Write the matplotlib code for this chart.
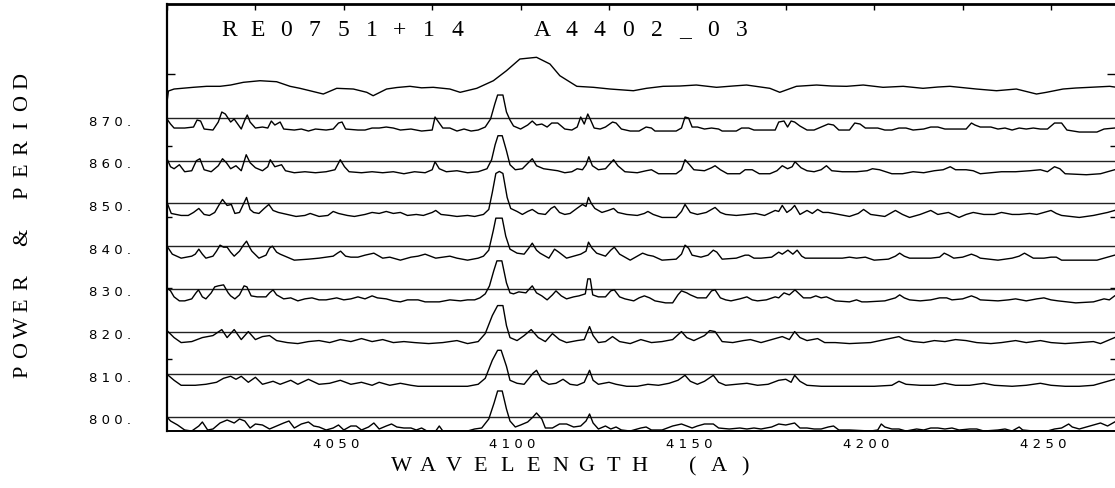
import matplotlib
matplotlib.use("Agg")
import matplotlib.pyplot as plt
import matplotlib.transforms as mtransforms
import numpy as np

# ---- data ---------------------------------------------------------------
PERIODS = [800, 810, 820, 830, 840, 850, 860, 870]
X_TICK_LABELS = [4050, 4100, 4150, 4200, 4250]
TITLE = "RE0751+14  A4402_03"
X_LABEL = "WAVELENGTH (A)"
Y_LABEL = "POWER & PERIOD"

# mean spectrum (relative flux) on top
MEAN_WL = [4000.0, 4000.4, 4002, 4007.4, 4011.2, 4015, 4018, 4021.6, 4026.3, 4031, 4034.8,
           4037.6, 4040.4, 4044.2, 4048, 4052.7, 4056.5, 4058.3, 4062.1, 4065, 4068.7, 4072,
           4075.3, 4080, 4082.9, 4087.6, 4092.3, 4096, 4099.8, 4104.5, 4108.3, 4111.1, 4115.9,
           4120.6, 4125.3, 4131.9, 4135.6, 4140.3, 4145, 4149.7, 4155.4, 4160, 4163.9, 4170.5,
           4173.3, 4178, 4183.7, 4188, 4192.2, 4196.9, 4202.5, 4208.2, 4213.8, 4218, 4221.4,
           4228.9, 4234.6, 4240.2, 4245.9, 4248.7, 4253.4, 4257, 4261, 4266.6, 4268]
MEAN_FLUX = [2, 13, 15, 16.7, 17.7, 17.7, 19, 21.7, 23.3, 22.3, 17.7,
             15.7, 13.3, 10, 15.7, 15, 11.7, 8.3, 15, 16.5, 17.7, 16.2,
             16.7, 15, 11.7, 15.7, 23.3, 33.3, 45, 46.7, 40, 28.3, 17.7,
             16.7, 15, 13.3, 15.7, 17.7, 18, 19, 16.7, 18, 19, 15.7,
             11.7, 17.7, 19, 18, 17.7, 19, 16.7, 17.7, 15.7, 17, 17.7,
             15, 13.3, 15, 10, 11.7, 15, 16, 16.7, 17.7, 17]

# power spectra, one per trial period
WL_870 = [4000, 4001, 4002, 4005, 4007.5, 4008.5, 4009.5, 4010.5, 4013, 4014.5, 4015.5, 4016.5, 4018,
          4019, 4020, 4021, 4022, 4022.7, 4023.5, 4025, 4027, 4028.5, 4029.5, 4030.5, 4032, 4033,
          4036, 4038, 4040, 4042, 4045, 4047, 4048.5, 4049.5, 4050.5, 4054, 4056, 4058, 4060, 4062,
          4064, 4066, 4069, 4072, 4075, 4075.8, 4076.8, 4078, 4080, 4082, 4084, 4086, 4088, 4090,
          4091.5, 4092.7, 4093.5, 4095, 4096, 4097, 4098, 4100, 4102, 4103.3, 4104.5, 4106, 4107.5,
          4108.8, 4110.5, 4112.5, 4114.5, 4116, 4117, 4118, 4119, 4119.8, 4120.8, 4122.5, 4124,
          4126, 4127, 4128.5, 4131, 4133.5, 4135.5, 4137, 4138, 4144, 4145.5, 4146.5, 4147.5,
          4148.5, 4150, 4152, 4154, 4156, 4157, 4161, 4162.5, 4164.5, 4166, 4172, 4173, 4174.5,
          4175.5, 4176.5, 4177.5, 4179, 4181, 4183, 4185, 4187, 4188.5, 4190, 4193, 4194.5, 4196,
          4197.5, 4201, 4203, 4205, 4207, 4209, 4211, 4214, 4216, 4218, 4220, 4223, 4226, 4227.5,
          4228.5, 4230, 4233, 4235, 4237, 4239, 4241, 4243, 4245, 4247, 4249, 4251, 4253, 4254.5,
          4258, 4263, 4265, 4268]
PW_870 = [13, 8, 4, 4, 5, 12, 11, 3, 2, 10, 20, 18, 10,
          13, 8, 3, 12, 17, 10, 4, 5, 4, 11, 7, 10, 3,
          2, 3, 1, 3, 2, 3, 9, 10, 3, 2, 2, 4, 4, 5,
          4, 2, 3, 1, 2, 15, 10, 4, 4, 1, 3, 1, 2, 5,
          13, 28, 37, 37, 20, 12, 6, 3, 7, 11, 7, 8, 5,
          9, 9, 3, 2, 5, 15, 8, 18, 12, 4, 3, 5,
          10, 9, 3, 1, 1, 5, 4, 1, 1, 4, 15, 14,
          5, 5, 3, 4, 3, 1, 1, 4, 4, 2, 2, 10, 11,
          5, 11, 10, 6, 2, 2, 5, 8, 7, 2, 2, 9, 8,
          4, 4, 2, 2, 4, 4, 2, 3, 5, 5, 3, 3, 3, 9,
          7, 5, 5, 3, 4, 2, 4, 3, 4, 3, 3, 9, 9, 2,
          0, 0, 3, 4]

WL_860 = [4000, 4001, 4002, 4003.5, 4005, 4007, 4008.3, 4009.3, 4010.5, 4012.5, 4014.5, 4015.7, 4016.8,
          4018, 4019.5, 4021, 4022.4, 4023.5, 4025, 4027, 4028.5, 4029.2, 4030.5, 4032.4, 4033.5,
          4036, 4039, 4042, 4045, 4047.5, 4049, 4050.2, 4051.5, 4055, 4058, 4061, 4064, 4067, 4070,
          4073, 4075, 4075.8, 4077, 4079, 4082, 4085, 4088, 4090.5, 4091.8, 4092.8, 4093.6, 4094.8,
          4096, 4097, 4098.5, 4100.5, 4102.2, 4103.3, 4104.5, 4106.5, 4108.5, 4110.5, 4112.5,
          4114.5, 4116, 4117.5, 4118.5, 4119.3, 4120.3, 4122, 4124, 4126.3, 4127.5, 4129.5, 4133,
          4135.5, 4137, 4139, 4144, 4145.5, 4146.5, 4147.8, 4149, 4152, 4154, 4155, 4156.5, 4158.5,
          4162, 4163.5, 4165.5, 4167.5, 4170.5, 4172.5, 4174, 4175.5, 4176.8, 4177.6, 4179.3, 4181,
          4183, 4185, 4186.5, 4188, 4191, 4195, 4198, 4199.5, 4201.5, 4205, 4208, 4211, 4214, 4217,
          4219.5, 4221.5, 4223, 4226, 4228, 4230, 4233, 4236, 4240, 4244, 4247, 4249, 4251, 4252.5,
          4254, 4260, 4264, 4266, 4268]
PW_860 = [16, 8, 6, 10, 3, 4, 14, 16, 5, 3, 9, 16, 12,
          6, 9, 4, 20, 12, 7, 4, 8, 15, 8, 10, 4,
          2, 3, 2, 3, 5, 15, 8, 3, 2, 3, 2, 3, 1, 3,
          2, 5, 13, 6, 3, 4, 2, 3, 6, 15, 30, 39, 39,
          24, 10, 5, 6, 12, 16, 9, 6, 5, 4, 2,
          3, 6, 5, 10, 18, 9, 5, 6, 15, 9, 3, 2,
          4, 5, 1, 1, 5, 15, 10, 5, 4, 7, 9, 5, 1,
          1, 5, 5, 1, 1, 4, 9, 6, 8, 13, 7, 4,
          3, 5, 9, 4, 3, 3, 4, 6, 5, 1, 1, 3, 2, 4,
          5, 8, 5, 5, 4, 1, 2, 3, 3, 4, 5, 3, 8, 6,
          1, 0, 1, 3, 5]

WL_850 = [4000, 4001.2, 4004, 4006, 4007.5, 4009, 4010.5, 4012, 4013.5, 4014.8, 4015.7, 4017, 4018.2,
          4019.2, 4020.5, 4021.7, 4022.5, 4023.5, 4024.5, 4026, 4027.5, 4028.8, 4030, 4031.5, 4034,
          4036.5, 4039, 4040.5, 4043, 4045.5, 4047, 4048.5, 4051, 4053, 4056, 4058, 4060, 4062, 4064,
          4066, 4068, 4070.5, 4072.5, 4075, 4076, 4077.5, 4080, 4082, 4085, 4087, 4089.5, 4091, 4092,
          4093, 4094, 4095, 4096.2, 4097.2, 4099, 4100.5, 4102, 4103.3, 4105, 4107, 4108.6, 4109.6,
          4111, 4112.5, 4114, 4115.9, 4117.5, 4118.5, 4119.2, 4120, 4121, 4123, 4124.8, 4126.3,
          4127.5, 4130, 4133, 4135, 4136, 4137.5, 4140, 4144, 4145.5, 4146.5, 4148, 4150, 4152.5,
          4155, 4156.5, 4158, 4161, 4164, 4166.5, 4169, 4172, 4173, 4174, 4175.3, 4176.5, 4177.5,
          4179, 4181, 4182.5, 4184, 4185.5, 4187, 4188.5, 4190, 4193, 4195.5, 4197, 4199, 4203,
          4206, 4208, 4210, 4213, 4216, 4218, 4221, 4224, 4226, 4228, 4231, 4234, 4236, 4239, 4241,
          4244, 4246, 4248, 4250, 4251.5, 4253, 4258, 4262, 4266, 4268]
PW_850 = [15, 4, 2, 2, 5, 9, 3, 2, 5, 13, 18, 12, 13,
          4, 5, 14, 20, 8, 5, 4, 9, 13, 7, 5, 3,
          1, 2, 4, 1, 2, 6, 4, 2, 1, 3, 5, 4, 6, 4,
          5, 2, 3, 2, 5, 7, 3, 2, 1, 2, 1, 3, 8, 25,
          44, 46, 44, 20, 9, 6, 3, 6, 8, 4, 3, 9, 11,
          5, 3, 4, 9, 13, 11, 20, 14, 9, 5, 7, 9,
          5, 3, 2, 4, 6, 3, 0, 0, 6, 13, 5, 3, 5,
          10, 5, 3, 2, 3, 4, 2, 7, 6, 12, 5, 8, 12,
          3, 7, 4, 8, 5, 5, 4, 3, 1, 4, 8, 3, 1,
          7, 3, 0, 3, 7, 3, 5, 0, 3, 5, 3, 3, 5, 3, 3,
          4, 3, 5, 7, 4, 2, 0, 2, 5, 7]

WL_840 = [4000, 4001.5, 4004, 4007, 4008, 4009, 4010, 4011, 4013, 4014, 4015, 4016, 4017, 4018, 4019,
          4020.5, 4021.6, 4022.5, 4023.5, 4024, 4026, 4028, 4029, 4029.8, 4031, 4032, 4034, 4036,
          4040, 4043, 4045, 4047, 4048.2, 4049.1, 4050.5, 4052, 4054, 4056, 4058.5, 4060, 4061,
          4063, 4066, 4069, 4071, 4073, 4074.5, 4076, 4078, 4080, 4082, 4085, 4088, 4089.5, 4091,
          4092.3, 4093, 4094.8, 4095.8, 4097, 4099, 4101, 4102.3, 4103.3, 4104.5, 4105.5, 4108,
          4109.6, 4110.8, 4113, 4115, 4117, 4118.5, 4119.2, 4120.2, 4121.5, 4124, 4125.5, 4126.5,
          4128, 4129.5, 4131, 4133, 4134.5, 4136, 4137.5, 4140, 4144, 4145.5, 4146.5, 4147.5,
          4148.5, 4151, 4153, 4154.5, 4155.5, 4157, 4161, 4163.5, 4164.5, 4166, 4168, 4171, 4173,
          4174, 4175.6, 4177, 4178.2, 4179.5, 4180.5, 4185, 4189, 4191, 4193, 4195, 4197.5, 4200,
          4204, 4206, 4207.2, 4208.5, 4210, 4214, 4216, 4218.5, 4219.8, 4221, 4222.5, 4225, 4227.5,
          4229, 4230, 4235, 4239, 4241, 4242.5, 4244, 4245, 4248, 4250, 4251.5, 4253, 4260, 4263,
          4266, 4268]
PW_840 = [14, 6, 2, 4, 6, 11, 6, 2, 4, 9, 15, 13, 13, 8, 4,
          9, 15, 19, 12, 9, 2, 5, 12, 14, 8, 6, 3, 0,
          1, 2, 3, 4, 7, 9, 4, 3, 3, 5, 7, 4, 2,
          3, 0, 3, 4, 6, 4, 2, 3, 4, 2, 0, 2, 4, 10,
          30, 42, 42, 24, 11, 7, 6, 12, 17, 10, 7, 2,
          11, 8, 2, 4, 6, 9, 18, 12, 7, 4, 10, 13,
          6, 3, 0, 4, 7, 5, 4, 0, 1, 6, 15, 12,
          5, 3, 5, 10, 8, 1, 2, 5, 5, 2, 2, 3, 8,
          6, 10, 6, 10, 4, 2, 2, 2, 2, 3, 2, 3, 0,
          1, 4, 7, 4, 2, 2, 2, 3, 7, 5, 2, 3, 6,
          4, 2, 0, 2, 4, 7, 4, 2, 2, 3, 3, 0, 0, 0,
          3, 5]

WL_830 = [4000, 4001, 4002, 4003.5, 4005, 4007, 4008.2, 4008.9, 4010, 4011, 4012.5, 4013.5, 4014.5,
          4016, 4017.3, 4018, 4019.2, 4020.5, 4021.8, 4022.6, 4023.8, 4025.5, 4028, 4029, 4030,
          4031, 4033, 4035, 4037, 4039, 4041, 4043, 4045, 4048, 4050, 4052, 4054, 4056, 4058,
          4059.5, 4062, 4064, 4066, 4068, 4071, 4073, 4077, 4080, 4083, 4085, 4087, 4088.5, 4090,
          4091.2, 4092.4, 4093.3, 4094.7, 4096, 4097, 4098, 4099.5, 4101.5, 4102.5, 4103.3, 4104.5,
          4106, 4107.5, 4109, 4110, 4111.5, 4113, 4115, 4116.5, 4118.3, 4119, 4119.7, 4120.4, 4122,
          4124, 4125.5, 4126.5, 4128, 4129.5, 4132, 4133.5, 4135, 4136.5, 4138, 4141, 4143, 4144.5,
          4145.5, 4147, 4148, 4150, 4152.5, 4154, 4155, 4156.5, 4158, 4159.5, 4162, 4164, 4165.5,
          4167, 4169.5, 4172, 4173, 4174.5, 4176, 4177.6, 4178.8, 4180, 4182, 4183.5, 4185, 4186.5,
          4189, 4193, 4195, 4196.5, 4198, 4203, 4206, 4207.2, 4208.5, 4210, 4213, 4216, 4218.5,
          4220.5, 4222, 4225, 4227.5, 4229, 4230, 4235, 4238, 4240, 4241.5, 4243, 4246, 4248, 4250,
          4252, 4257, 4262, 4265, 4266.5, 4268]
PW_830 = [15, 12, 6, 2, 2, 4, 10, 13, 6, 4, 10, 16, 17,
          18, 10, 7, 4, 8, 17, 16, 7, 6, 6, 10, 13,
          8, 4, 5, 2, 4, 5, 3, 3, 5, 3, 4, 6, 4, 7,
          5, 4, 2, 1, 3, 3, 1, 1, 3, 2, 3, 3, 5, 9,
          17, 32, 42, 42, 20, 10, 9, 11, 10, 14, 17, 10,
          7, 3, 8, 12, 7, 4, 6, 7, 9, 24, 24, 8, 6,
          6, 12, 13, 6, 4, 2, 5, 7, 5, 2, 0, 0, 8,
          12, 10, 8, 5, 5, 12, 13, 5, 3, 2, 4, 6, 3,
          2, 3, 6, 5, 10, 8, 13, 9, 5, 5, 7, 5, 6,
          2, 1, 3, 1, 1, 2, 5, 8, 5, 3, 2, 3, 5,
          5, 3, 4, 7, 5, 3, 2, 3, 4, 3, 2, 4, 5, 3,
          2, 0, 1, 4, 3, 7]

WL_820 = [4000, 4002, 4004, 4007, 4010, 4013, 4015.5, 4017, 4019, 4021, 4023, 4025, 4027, 4029, 4031,
          4034, 4037, 4040, 4043, 4046, 4049, 4052, 4055, 4058, 4061, 4064, 4067, 4070, 4074, 4078,
          4082, 4085, 4088, 4090, 4092, 4093.5, 4095, 4096, 4097, 4099, 4101, 4103, 4105, 4107,
          4109, 4111, 4113, 4116, 4118, 4119.5, 4120.5, 4122, 4124, 4126, 4128, 4131, 4134, 4137,
          4140, 4143, 4145.5, 4147, 4149, 4152, 4153.5, 4155, 4157, 4160, 4163, 4165, 4168, 4171,
          4174, 4176, 4177.5, 4179, 4181, 4184, 4186, 4189, 4193, 4199, 4207, 4208.5, 4211, 4214,
          4217, 4220, 4223, 4226, 4229, 4233, 4236, 4240, 4243, 4247, 4250, 4254, 4258, 4262, 4264,
          4266, 4268]
PW_820 = [15, 8, 3, 4, 8, 10, 16, 8, 16, 6, 14, 6, 9, 10, 5,
          3, 2, 4, 5, 3, 6, 4, 7, 4, 6, 3, 4, 3, 2, 3,
          5, 2, 4, 12, 30, 40, 40, 20, 8, 5, 10, 16, 8, 4,
          12, 6, 3, 5, 6, 19, 10, 3, 4, 9, 4, 2, 6, 3,
          4, 6, 14, 8, 5, 10, 15, 14, 4, 3, 5, 6, 3, 6,
          9, 6, 14, 8, 5, 7, 3, 3, 2, 3, 9, 6, 4, 3,
          5, 4, 6, 5, 3, 2, 3, 5, 3, 5, 3, 2, 3, 4, 2,
          5, 8]

WL_810 = [4000, 4002, 4004, 4008, 4011, 4014, 4016, 4018, 4019.5, 4021, 4023, 4025, 4027, 4030, 4032,
          4035, 4037, 4040, 4043, 4046, 4049, 4052, 4055, 4058, 4060, 4063, 4066, 4069, 4071, 4080,
          4085, 4088, 4090, 4092, 4093.5, 4094.5, 4096, 4097, 4099, 4101, 4103.5, 4104.5, 4106,
          4108, 4110, 4112, 4114, 4116, 4118, 4119.5, 4120.5, 4122, 4125, 4127, 4130, 4133, 4136,
          4139, 4142, 4144.5, 4146.5, 4148, 4150, 4152, 4154.5, 4156, 4158, 4161, 4164, 4167, 4170,
          4173, 4175, 4176.5, 4177.5, 4179, 4181, 4185, 4189, 4195, 4200, 4205, 4207, 4209, 4213,
          4217, 4220, 4223, 4227, 4231, 4234, 4239, 4243, 4247, 4250, 4254, 4258, 4262, 4265, 4268]
PW_810 = [14, 8, 3, 3, 4, 6, 10, 12, 9, 12, 6, 11, 4, 7, 4,
          8, 4, 9, 4, 5, 8, 4, 6, 3, 6, 3, 5, 3, 2, 2,
          2, 4, 10, 28, 38, 38, 22, 8, 5, 4, 15, 18, 8,
          4, 5, 9, 4, 3, 6, 18, 8, 4, 6, 4, 2, 2, 4,
          3, 5, 8, 13, 7, 4, 7, 13, 6, 3, 4, 5, 3, 4,
          8, 9, 6, 13, 7, 3, 2, 2, 2, 2, 3, 7, 4, 3,
          3, 5, 3, 3, 5, 3, 2, 3, 5, 3, 2, 2, 3, 6, 9]

WL_800 = [4000, 4001, 4003, 4005, 4007, 4009, 4010, 4011.5, 4013, 4015, 4017, 4019, 4020.5, 4022,
          4023.5, 4025, 4027, 4029, 4031, 4033, 4034.5, 4036, 4038, 4040, 4041.5, 4043, 4045, 4047,
          4048.5, 4050, 4052, 4053.5, 4055, 4057, 4058.5, 4060, 4062, 4063.5, 4065, 4067, 4069,
          4070.5, 4072, 4073.5, 4076, 4077, 4078, 4085, 4087, 4089, 4091, 4092.5, 4093.5, 4094.8,
          4096, 4097, 4098.5, 4100, 4102, 4103.5, 4104.5, 4106, 4107, 4109, 4111, 4113, 4115, 4117,
          4118.5, 4119.5, 4120.5, 4122, 4124, 4125.5, 4127, 4128.5, 4131, 4134, 4135.5, 4137, 4140,
          4143, 4145.5, 4147, 4148.5, 4150, 4152, 4154.5, 4156, 4159, 4162, 4164, 4166, 4168, 4171,
          4173, 4175, 4177.5, 4179, 4181, 4183, 4185, 4187, 4188.5, 4190, 4193, 4199, 4201, 4202,
          4203, 4205, 4207, 4209, 4212, 4214, 4216, 4218, 4220, 4222, 4224, 4227, 4229, 4231, 4235,
          4237, 4239, 4241, 4242, 4245, 4249, 4251, 4253, 4255, 4256, 4258, 4262, 4264, 4266, 4268]
PW_800 = [14, 10, 6, 1, 0, 5, 9, 1, 2, 8, 11, 8, 12, 10,
          3, 7, 6, 2, 5, 8, 10, 3, 7, 9, 5, 4, 1, 3,
          6, 1, 5, 5, 1, 4, 8, 2, 5, 7, 4, 3, 3,
          1, 3, 0, 0, 5, 0, 0, 2, 3, 12, 28, 40, 40,
          22, 10, 4, 6, 9, 14, 18, 12, 3, 3, 7, 7, 4, 5,
          10, 17, 8, 2, 5, 2, 4, 1, 0, 3, 4, 1, 1,
          5, 7, 5, 3, 5, 7, 7, 3, 2, 3, 2, 3, 2, 4,
          7, 6, 8, 3, 3, 2, 2, 4, 5, 1, 1, 0, 1, 7,
          4, 2, 2, 0, 2, 1, 3, 3, 2, 3, 1, 2, 2, 0, 1,
          2, 0, 4, 1, 0, 0, 2, 3, 7, 4, 2, 6, 8, 5, 9]

SPECTRA = {
    800: (WL_800, PW_800), 810: (WL_810, PW_810), 820: (WL_820, PW_820),
    830: (WL_830, PW_830), 840: (WL_840, PW_840), 850: (WL_850, PW_850),
    860: (WL_860, PW_860), 870: (WL_870, PW_870),
}

# ---- layout (pixels of the 1115x489 canvas) --------------------------------
W, H = 1115, 489
PX_PER_UNIT = 4.27          # pixels per period unit on the y axis
GAIN = 1.0 / PX_PER_UNIT    # power unit -> period unit
DROP = 14 * GAIN            # trace zero sits a little under its period line
MEAN_ZERO = 870 + 14 * GAIN

plt.rcParams["font.family"] = ["DejaVu Sans"]
fig = plt.figure(figsize=(W / 100, H / 100), dpi=100)
fig.patch.set_facecolor("white")
ax = fig.add_axes([167 / W, 57 / H, (W - 167) / W, 427 / H])
ax.set_xlim(4000, 4000 + (W - 167) / 3.536)
ax.set_ylim(800 - 14 * GAIN, 870 + 114 * GAIN)

x0, x1 = ax.get_xlim()
ax.hlines(PERIODS, x0, x1, color="#222222", lw=1.0)
for p in PERIODS:
    wl, pw = SPECTRA[p]
    ax.plot(wl, p - DROP + np.asarray(pw) * GAIN, color="black", lw=1.0)
ax.plot(MEAN_WL, MEAN_ZERO + np.asarray(MEAN_FLUX) * GAIN, color="black", lw=1.0)

for side, lw in (("left", 1.6), ("top", 2.0), ("bottom", 1.4)):
    ax.spines[side].set_linewidth(lw)
ax.spines["right"].set_visible(False)

# x: inward marks on the top edge every 25 A, labels below without marks
ax.set_xticks(np.arange(4000, 4270, 25))
ax.tick_params(axis="x", top=True, bottom=False, labeltop=False, labelbottom=False,
               direction="in", length=4.5, width=1.0)
lab_tr = mtransforms.offset_copy(ax.get_xaxis_transform(), fig=fig, x=-8, y=-6, units="dots")
for v in X_TICK_LABELS:
    ax.text(v, 0, " ".join(str(v)), transform=lab_tr, ha="center", va="top", fontsize=9.5)

# y: a few unlabeled inward marks, period labels at the left
ax.set_yticks([870 + 44 * GAIN])
ax.set_yticks([870 - 28 * GAIN - 71 * GAIN * k for k in range(4)], minor=True)
ax.set_yticklabels([])
ax.tick_params(axis="y", which="major", left=True, right=True, direction="in", length=6, width=1.0)
ax.tick_params(axis="y", which="minor", left=True, right=True, direction="in", length=3.5, width=1.0)
per_tr = mtransforms.offset_copy(ax.get_yaxis_transform(), fig=fig, x=-36, y=-3, units="dots")
for p in PERIODS:
    ax.text(0, p, " ".join(f"{p}."), transform=per_tr, ha="right", va="center", fontsize=9.5)


def spaced(x_first, y_first, step, text, rotation=0, size=16):
    # one glyph per cell, like the plotter's fixed-pitch lettering
    for i, ch in enumerate(text):
        if ch == " ":
            continue
        xp = x_first + (step * i if rotation == 0 else 0)
        yp = y_first - (step * i if rotation else 0)
        fig.text(xp / W, 1 - yp / H, ch, ha="center", va="center", rotation=rotation,
                 fontsize=size, family="Liberation Serif")


spaced(229, 31, 28.5, TITLE, size=17)
spaced(401, 467, 26.5, X_LABEL)
spaced(23, 372, 22.4, Y_LABEL, rotation=90)

fig.savefig("out.png", dpi=100, facecolor="white")
